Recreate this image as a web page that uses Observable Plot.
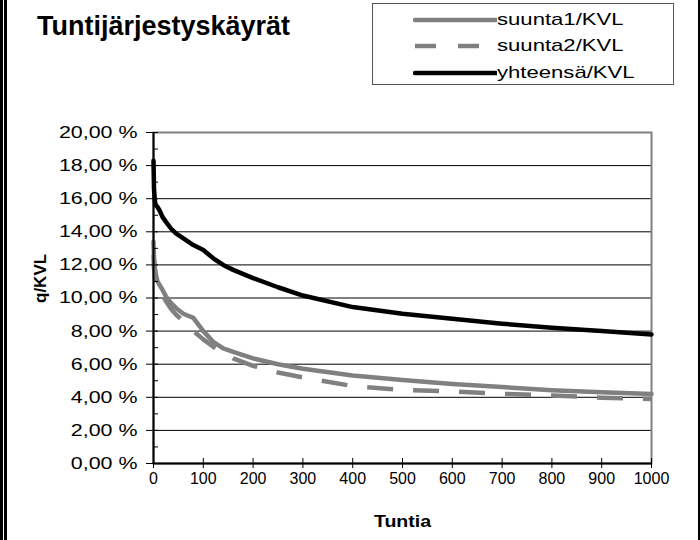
<!DOCTYPE html>
<html>
<head>
<meta charset="utf-8">
<script src="https://cdn.jsdelivr.net/npm/d3@7"></script>
<script src="https://cdn.jsdelivr.net/npm/@observablehq/plot@0.6"></script>
<style>
  html, body { margin: 0; padding: 0; background: #fff; }
  #wrap { position: relative; width: 700px; height: 540px; overflow: hidden; font-family: "Liberation Sans", Arial, sans-serif; }
  #title { position: absolute; left: 37px; top: 11px; font-weight: bold; font-size: 27px; color: #000; white-space: nowrap; }
  #legend { position: absolute; left: 372px; top: 3px; width: 302px; height: 82px; border: 1px solid #555; box-sizing: border-box; background: #fff; }
  .row { position: absolute; left: 40px; height: 20px; display: flex; align-items: center; font-size: 17px; white-space: nowrap; }
  .row svg { display: block; }
  .row span { display: inline-block; transform: scaleX(1.3); transform-origin: left center; }
  .bl1 { position: absolute; left: 0; top: 0; width: 3px; height: 540px; background: #000; }
  .bl2 { position: absolute; left: 4px; top: 0; width: 3px; height: 540px; background: #000; }
  .br { position: absolute; left: 698px; top: 0; width: 2px; height: 540px; background: #000; }
</style>
</head>
<body>
<div id="wrap">
  <div id="chart"></div>
  <div class="bl1"></div><div class="bl2"></div><div class="br"></div>
  <div id="title">Tuntijärjestyskäyrät</div>
  <div id="legend"></div>
</div>
<script>
// Hours (ordered duration curve x-values)
const hours = [0, 1, 3, 5, 8, 12, 18, 25, 35, 45, 60, 80, 100, 120, 140, 160, 200, 250, 300, 400, 500, 600, 700, 800, 900, 1000];
// Series values, % of KVL
const suunta1 = [13.4, 12.5, 11.8, 11.4, 11.0, 10.8, 10.5, 10.1, 9.7, 9.4, 9.05, 8.8, 8.0, 7.35, 6.95, 6.75, 6.35, 6.0, 5.72, 5.32, 5.05, 4.81, 4.62, 4.43, 4.3, 4.2];
const suunta2 = [12.6, 11.8, 11.2, 10.8, 10.6, 10.5, 10.2, 9.8, 9.35, 9.0, 8.6, 8.0, 7.5, 7.05, 6.7, 6.35, 5.9, 5.5, 5.2, 4.68, 4.45, 4.35, 4.21, 4.11, 3.98, 3.9];
const yhteensa = [18.3, 16.6, 15.8, 15.6, 15.5, 15.3, 14.9, 14.6, 14.2, 13.9, 13.6, 13.2, 12.9, 12.4, 12.0, 11.7, 11.2, 10.65, 10.15, 9.45, 9.05, 8.75, 8.45, 8.2, 8.0, 7.8];
const seriesNames = ["suunta1/KVL", "suunta2/KVL", "yhteensä/KVL"];
const xTicks = [0, 100, 200, 300, 400, 500, 600, 700, 800, 900, 1000];
const yTicks = [0, 2, 4, 6, 8, 10, 12, 14, 16, 18, 20];
const yMinor = [1, 3, 5, 7, 9, 11, 13, 15, 17, 19];
const gridTicks = [2, 4, 6, 8, 10, 12, 14, 16, 18];
const xLabel = "Tuntia";
const yLabel = "q/KVL";

const styles = {
  "suunta1/KVL": {stroke: "#808080", dash: null},
  "suunta2/KVL": {stroke: "#808080", dash: "26,20"},
  "yhteensä/KVL": {stroke: "#000000", dash: null}
};

const rows = [];
[suunta1, suunta2, yhteensa].forEach((vals, i) => {
  vals.forEach((v, j) => rows.push({series: seriesNames[i], h: hours[j], v}));
});

const fmt = d => d.toFixed(2).replace(".", ",") + " %";
const font = "Liberation Sans, Arial, sans-serif";

const chart = Plot.plot({
  width: 700,
  height: 540,
  marginLeft: 153,
  marginRight: 49,
  marginTop: 132,
  marginBottom: 77,
  style: {fontFamily: font, fontSize: "16px", color: "#000", background: "transparent"},
  x: {domain: [0, 1000]},
  y: {domain: [0, 20]},
  marks: [
    Plot.gridY({ticks: gridTicks, stroke: "#000", strokeOpacity: 1, strokeWidth: 1}),
    Plot.frame({stroke: "#808080", strokeWidth: 2}),
    Plot.line(rows.filter(d => d.series === "suunta1/KVL"), {x: "h", y: "v", stroke: styles["suunta1/KVL"].stroke, strokeWidth: 4.5, strokeLinejoin: "round"}),
    Plot.line(rows.filter(d => d.series === "suunta2/KVL"), {x: "h", y: "v", stroke: styles["suunta2/KVL"].stroke, strokeWidth: 4.5, strokeDasharray: styles["suunta2/KVL"].dash, strokeLinecap: "butt"}),
    Plot.line(rows.filter(d => d.series === "yhteensä/KVL"), {x: "h", y: "v", stroke: styles["yhteensä/KVL"].stroke, strokeWidth: 4.5, strokeLinejoin: "round"}),
    Plot.ruleY([0], {stroke: "#000", strokeWidth: 2}),
    Plot.ruleX([0], {stroke: "#000", strokeWidth: 2}),
    Plot.axisY({ticks: yTicks, tickFormat: fmt, tickSize: 7, tickPadding: 9, fontSize: 17, label: null, stroke: "#000"}),
    Plot.axisY({ticks: yTicks, tickSize: -5, text: null, label: null, stroke: "#000"}),
    Plot.axisY({ticks: yMinor, tickSize: -5, text: null, label: null, stroke: "#000"}),
    Plot.axisX({ticks: xTicks, tickFormat: d => String(d), tickSize: 5, tickPadding: 4, fontSize: 16, label: null, stroke: "#000"}),
    Plot.axisX({ticks: xTicks, tickSize: -5, text: null, label: null, stroke: "#000"}),
    Plot.text([xLabel], {frameAnchor: "bottom", dy: 58, fontSize: 17, fontWeight: "bold", lineAnchor: "middle"}),
    Plot.text([yLabel], {frameAnchor: "left", dx: -113, dy: 5, rotate: -90, fontSize: 17, fontWeight: "bold", lineAnchor: "middle"})
  ]
});
document.getElementById("chart").appendChild(chart);

// widen y tick labels to match the reference's wide glyphs
d3.select(chart).selectAll('g[aria-label="y-axis tick label"] text').each(function() {
  const w = this.getComputedTextLength();
  this.setAttribute("textLength", (w * 1.26).toFixed(1));
  this.setAttribute("lengthAdjust", "spacingAndGlyphs");
});
d3.select(chart).selectAll('g[aria-label="text"] text').each(function() {
  if (this.textContent === xLabel) {
    const w = this.getComputedTextLength();
    this.setAttribute("textLength", (w * 1.15).toFixed(1));
    this.setAttribute("lengthAdjust", "spacingAndGlyphs");
  }
});

// legend
const legend = document.getElementById("legend");
const rowTops = [6, 32, 59];
seriesNames.forEach((name, i) => {
  const st = styles[name];
  const div = document.createElement("div");
  div.className = "row";
  div.style.top = rowTops[i] + "px";
  const svg = d3.create("svg").attr("width", 84).attr("height", 10);
  svg.append("line").attr("x1", 2).attr("x2", 84).attr("y1", 5).attr("y2", 5)
    .attr("stroke", st.stroke).attr("stroke-width", 4.5)
    .attr("stroke-dasharray", st.dash ? "21,22" : null)
    .attr("stroke-linecap", st.dash ? "butt" : "round");
  div.appendChild(svg.node());
  const span = document.createElement("span");
  span.textContent = name;
  div.appendChild(span);
  legend.appendChild(div);
});
</script>
</body>
</html>
